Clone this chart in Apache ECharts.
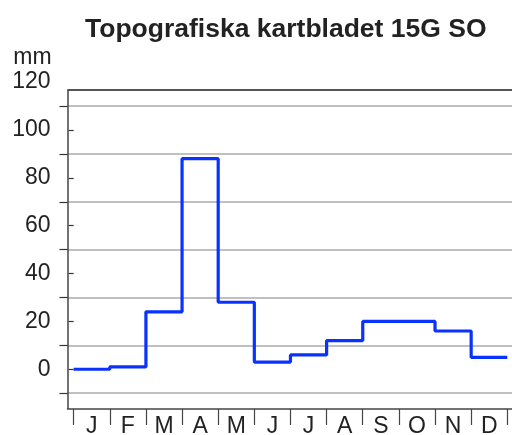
<!DOCTYPE html>
<html><head><meta charset="utf-8">
<script src="https://cdn.jsdelivr.net/npm/echarts@6/dist/echarts.min.js"></script>
<style>html,body{margin:0;padding:0;background:#fff}#c{width:512px;height:435px}</style>
</head><body><div id="c"></div>
<script>
// ---- data ----
const titleText = 'Topografiska kartbladet 15G SO';
const yName = 'mm';
const months = ['J', 'F', 'M', 'A', 'M', 'J', 'J', 'A', 'S', 'O', 'N', 'D'];
const precip = [0, 1, 24, 88, 28, 3, 6, 12, 20, 20, 16, 5];
const yLabelValues = [0, 20, 40, 60, 80, 100, 120];
const yShortTicks = [0, 20, 40, 60, 80, 100];
const yGridValues = [-10, 10, 30, 50, 70, 90, 110];

// ---- derived ----
const monthEdges = months.map((m, i) => i).concat([months.length]);
const monthCenters = months.map((m, i) => i + 0.5);
const stepData = precip.map((v, i) => [i, v]).concat([[months.length, precip[precip.length - 1]]]);

// axis extents
const yMin = -16.6, yMax = 120, frameTop = 116.8;
const xMin = -0.17, xMax = 12.13;

const FONT = "'Liberation Sans', Arial, Helvetica, sans-serif";
const chart = echarts.init(document.getElementById('c'), null, {renderer: 'canvas'});
chart.setOption({
  animation: false,
  backgroundColor: '#fff',
  title: {
    text: titleText, left: 80, top: 11,
    textStyle: {fontFamily: FONT, fontSize: 26.5, fontWeight: 'bold', color: '#222'}
  },
  grid: {left: 67.5, right: 0, top: 82.1, bottom: 26, containLabel: false, outerBoundsMode: 'none'},
  xAxis: {
    type: 'value', min: xMin, max: xMax,
    axisLine: {show: true, onZero: false, lineStyle: {color: '#444', width: 1.5}},
    axisTick: {show: true, customValues: monthEdges, length: 16, lineStyle: {color: '#444', width: 1.2}},
    axisLabel: {
      show: true, customValues: monthCenters, margin: 6,
      formatter: v => months[Math.floor(v)],
      fontFamily: FONT, fontSize: 23, color: '#222'
    },
    splitLine: {show: false}
  },
  yAxis: [
    {
      type: 'value', min: yMin, max: yMax, position: 'left',
      name: yName, nameLocation: 'end', nameGap: 24,
      nameTextStyle: {fontFamily: FONT, fontSize: 23, color: '#222', align: 'right', verticalAlign: 'middle', padding: [0, 22, 0, 0]},
      axisLine: {show: false},
      axisTick: {show: true, customValues: yShortTicks, length: 5, lineStyle: {color: '#333', width: 1.2}},
      axisLabel: {show: true, customValues: yLabelValues, margin: 17, fontFamily: FONT, fontSize: 23, color: '#222'},
      splitLine: {show: false}
    },
    {
      type: 'value', min: yMin, max: yMax, position: 'left',
      axisLine: {show: false},
      axisTick: {show: true, customValues: yGridValues, length: 8, lineStyle: {color: '#333', width: 1.2}},
      axisLabel: {show: false},
      splitLine: {show: true, lineStyle: {color: '#c0c0c0', width: 2}}
    }
  ],
  series: [{
    type: 'line', step: 'end', data: stepData, yAxisIndex: 0,
    showSymbol: false, symbol: 'none',
    lineStyle: {color: '#0a32ff', width: 3.2},
    markLine: {
      silent: true, symbol: 'none', label: {show: false},
      lineStyle: {type: 'solid', color: '#444', width: 1.5},
      data: [
        {yAxis: frameTop, lineStyle: {color: '#555', width: 2}},
        [{coord: [xMin, yMin]}, {coord: [xMin, frameTop]}]
      ]
    }
  }]
});
</script></body></html>
